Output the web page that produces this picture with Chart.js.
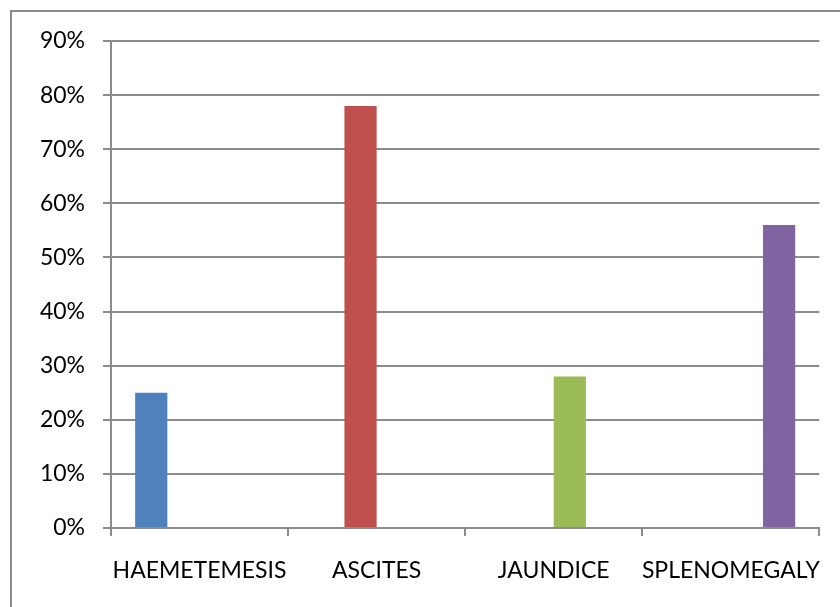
<!DOCTYPE html>
<html>
<head>
<meta charset="utf-8">
<script src="https://cdn.jsdelivr.net/npm/chart.js@4/dist/chart.umd.min.js"></script>
<style>
html,body{margin:0;padding:0;background:#fff;}
#wrap{width:840px;height:607px;position:relative;}
</style>
</head>
<body>
<div id="wrap"><canvas id="c" width="840" height="607"></canvas></div>
<script>
const categories = ["HAEMETEMESIS", "ASCITES", "JAUNDICE", "SPLENOMEGALY"];
const haemetemesis = [25, null, null, null];
const ascites = [null, 78, null, null];
const jaundice = [null, null, 28, null];
const splenomegaly = [null, null, null, 56];
const yTicks = [0, 10, 20, 30, 40, 50, 60, 70, 80, 90];
const colors = ["#4F81BD", "#C0504D", "#9BBB59", "#8064A2"];

const seriesList = [haemetemesis, ascites, jaundice, splenomegaly];
const gridColor = "#8c8c8c";

const frame = {
  id: "frame",
  beforeDraw(chart) {
    const ctx = chart.ctx;
    ctx.save();
    ctx.fillStyle = "#fff";
    ctx.fillRect(0, 0, chart.width, chart.height);
    ctx.strokeStyle = "#8c8c8c";
    ctx.lineWidth = 2;
    ctx.beginPath();
    ctx.moveTo(11, chart.height);
    ctx.lineTo(11, 11);
    ctx.lineTo(chart.width, 11);
    ctx.stroke();
    ctx.restore();
  }
};

new Chart(document.getElementById("c"), {
  type: "bar",
  data: {
    labels: categories,
    datasets: seriesList.map((d, i) => ({
      label: categories[i],
      data: d,
      backgroundColor: colors[i],
      borderWidth: 0,
      barPercentage: 1.0,
      categoryPercentage: 4 / 5.5
    }))
  },
  options: {
    responsive: false,
    animation: false,
    devicePixelRatio: 1,
    layout: { padding: { top: 41, right: 18, bottom: 0, left: 0 } },
    plugins: { legend: { display: false }, tooltip: { enabled: false } },
    scales: {
      x: {
        offset: true,
        grid: {
          offset: true,
          drawOnChartArea: false,
          drawTicks: true,
          tickLength: 8,
          color: gridColor,
          lineWidth: 2
        },
        border: { color: gridColor, width: 2 },
        ticks: {
          color: "#000",
          padding: 18,
          font: { family: "Lato", size: 23, lineHeight: 1.45 },
          maxRotation: 0,
          autoSkip: false
        },
        afterFit(scale) { scale.height = 79; }
      },
      y: {
        min: 0,
        max: 90,
        afterBuildTicks(scale) { scale.ticks = yTicks.map(v => ({ value: v })); },
        grid: {
          color: gridColor,
          lineWidth: 2,
          tickLength: 8,
          drawTicks: true
        },
        border: { color: gridColor, width: 2 },
        ticks: {
          color: "#000",
          padding: 18,
          font: { family: "Lato", size: 23 },
          callback: v => v + "%"
        },
        afterFit(scale) { scale.width = 111; }
      }
    }
  },
  plugins: [frame]
});
</script>
</body>
</html>
